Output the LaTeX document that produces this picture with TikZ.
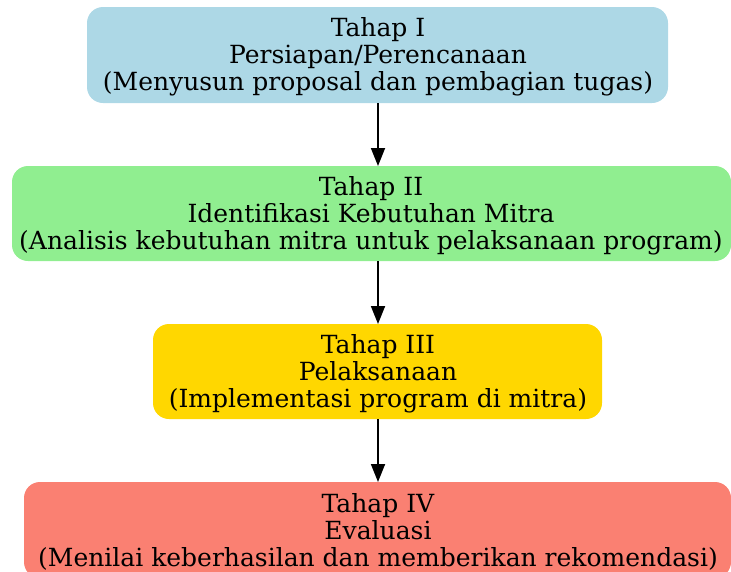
\documentclass[tikz,border=0pt]{standalone}
\usepackage{fontspec}
\setmainfont{DejaVu Serif}
\usetikzlibrary{arrows.meta}
\definecolor{cblue}{HTML}{ADD8E6}
\definecolor{cgreen}{HTML}{90EE90}
\definecolor{cgold}{HTML}{FFD700}
\definecolor{csalmon}{HTML}{FA8072}
\begin{document}
\begin{tikzpicture}[x=1pt,y=-1pt,
  stagebox/.style={rounded corners=16pt},
  stagetext/.style={align=center,font=\fontsize{25}{26.8}\selectfont,inner sep=0pt,text=black},
  flow/.style={-{Triangle[length=18pt,width=14pt]},line width=1.8pt}]
\useasboundingbox (0,0) rectangle (731,571);
\begin{scope}
\clip (0,0) rectangle (731,571);
\fill[cblue,stagebox] (87,7) rectangle (668,103);
\fill[cgreen,stagebox] (12,166) rectangle (731,261);
\fill[cgold,stagebox] (153,324) rectangle (602,419);
\fill[csalmon,stagebox] (24,482) rectangle (731,578);
\end{scope}
\coordinate (b1) at (378,103);
\coordinate (t2) at (378,166);
\coordinate (b2) at (378,261);
\coordinate (t3) at (378,324);
\coordinate (b3) at (378,419);
\coordinate (t4) at (378,482);
\node[stagetext] (n1) at (378,57) {Tahap I\\Persiapan/Perencanaan\\(Menyusun proposal dan pembagian tugas)};
\node[stagetext] (n2) at (371,216) {Tahap II\\Identifikasi Kebutuhan Mitra\\(Analisis kebutuhan mitra untuk pelaksanaan program)};
\node[stagetext] (n3) at (378,374) {Tahap III\\Pelaksanaan\\(Implementasi program di mitra)};
\node[stagetext] (n4) at (378,532) {Tahap IV\\Evaluasi\\(Menilai keberhasilan dan memberikan rekomendasi)};
\draw[flow] (b1) -- (t2);
\draw[flow] (b2) -- (t3);
\draw[flow] (b3) -- (t4);
\end{tikzpicture}
\end{document}
